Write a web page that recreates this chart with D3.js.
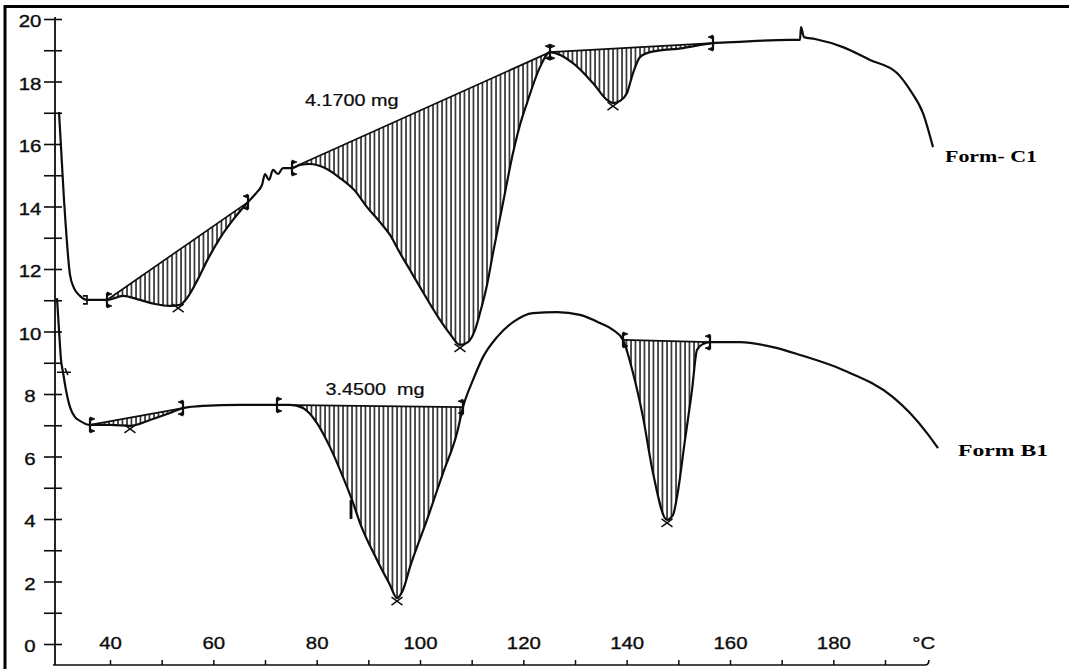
<!DOCTYPE html>
<html><head><meta charset="utf-8">
<script src="https://cdn.jsdelivr.net/npm/d3@7"></script>
<style>
html,body{margin:0;padding:0;background:#fff;}
svg{display:block;}
text{white-space:pre;}
</style></head>
<body>
<svg id="chart" width="1069" height="669"></svg>
<script>
// ---------------- DATA ----------------
// Form- C1 trace : temperature (°C) and signal value
const c1Temp = [30.13,31.10,32.26,33.03,34.19,35.55,39.42,42.52,45.81,48.71,51.61,53.55,54.90,56.84,58.77,61.29,63.81,66.71,68.45,69.42,70.00,70.77,71.55,72.52,73.48,75.23,76.77,78.71,81.61,84.52,87.42,89.74,92.26,94.19,96.13,98.06,100.0,101.94,103.87,105.81,107.74,109.29,110.65,111.61,112.97,114.13,116.06,118.0,119.35,120.71,123.23,125.16,129.61,133.48,136.19,137.35,138.71,140.06,141.23,142.58,144.52,150.9,156.71,160.58,171.61,173.55,173.74,174.32,176.45,181.87,187.1,192.32,194.84,197.35,199.29];
const c1Val  = [17.02,14.21,11.81,11.39,11.14,11.01,11.01,11.14,11.01,10.88,10.82,10.85,11.07,11.62,12.26,12.99,13.57,14.14,14.46,14.69,15.04,14.85,15.17,15.04,15.23,15.23,15.33,15.36,15.23,14.91,14.50,13.98,13.50,13.09,12.51,11.97,11.42,10.88,10.37,9.92,9.57,9.66,10.05,10.59,11.49,12.51,14.11,15.71,16.61,17.31,18.46,18.94,18.59,17.95,17.41,17.31,17.38,17.63,18.27,18.78,18.94,19.07,19.23,19.26,19.33,19.33,19.74,19.42,19.36,19.10,18.69,18.27,17.73,16.99,15.90];
// Form B1 trace
const b1Temp = [29.74,30.13,30.52,30.90,31.48,32.26,33.23,34.19,36.13,40.0,43.87,47.74,51.61,54.13,58.0,65.16,72.32,74.84,77.35,80.06,82.58,85.10,86.84,88.39,91.68,94.19,95.55,96.71,98.06,101.35,104.45,107.16,108.32,110.26,112.19,114.90,118.0,121.87,126.52,130.97,134.84,137.35,139.29,141.23,143.16,145.10,147.81,148.97,149.74,151.29,152.65,153.61,154.77,156.13,161.94,168.32,173.55,181.87,191.55,194.84,198.13,200.26];
const b1Val  = [11.07,10.05,9.09,8.70,8.13,7.58,7.26,7.14,7.01,7.01,6.98,7.17,7.39,7.55,7.62,7.65,7.65,7.65,7.55,7.07,6.30,5.34,4.61,3.87,2.69,1.89,1.47,1.73,2.46,3.97,5.47,6.75,7.58,8.45,9.18,9.82,10.30,10.59,10.62,10.53,10.27,10.05,9.73,8.67,7.26,5.47,3.97,4.13,4.70,6.53,8.13,9.41,9.60,9.66,9.66,9.50,9.25,8.77,7.90,7.39,6.75,6.27];

// integration limits and peak minima
const c1PeakStart = [39.42, 75.23, 125.16];
const c1PeakEnd   = [66.71, 125.16, 156.71];
const c1PeakMin   = [53.2, 107.74, 137.35];
const b1PeakStart = [36.13, 72.32, 139.29];
const b1PeakEnd   = [54.13, 108.32, 156.13];
const b1PeakMin   = [43.87, 95.55, 147.81];
const c1ExtraMark = [35.55];
const b1ExtraMark = [30.90];
const b1NotchMark = [86.84];

const peakLabels  = ["4.1700 mg", "3.4500  mg"];
const seriesNames = ["Form- C1", "Form B1"];
const yTicks      = d3.range(0, 21, 1);
const yTickLabels = [0, 2, 4, 6, 8, 10, 12, 14, 16, 18, 20];
const xTicks      = d3.range(40, 191, 10);
const xTickLabels = [40, 60, 80, 100, 120, 140, 160, 180];
const xUnit       = "°C";

// ---------------- DRAWING ----------------
const svg = d3.select("#chart");
const x = d3.scaleLinear().domain([40, 190]).range([110, 885]);
const y = d3.scaleLinear().domain([0, 20]).range([644, 19]);
const AX_Y = 665, AX_X = 55;
const FONT = "'Liberation Sans', Arial, sans-serif";
const STRETCH = 1.2;
const INK = "#0d0d0d";

function interp(T, V, t) {
  const i = d3.bisectLeft(T, t);
  if (i <= 0) return V[0];
  if (i >= T.length) return V[V.length - 1];
  if (T[i] === t) return V[i];
  return V[i-1] + (V[i] - V[i-1]) * (t - T[i-1]) / (T[i] - T[i-1]);
}

// hatch pattern
const defs = svg.append("defs");
defs.append("pattern").attr("id", "hatch").attr("patternUnits", "userSpaceOnUse")
  .attr("width", 4.5).attr("height", 10)
  .append("line").attr("x1", 1).attr("x2", 1).attr("y1", 0).attr("y2", 10)
  .attr("stroke", "#111").attr("stroke-width", 1.45);

// frame (left & top)
svg.append("line").attr("x1", 5).attr("x2", 5).attr("y1", 5).attr("y2", 669)
  .attr("stroke", "#000").attr("stroke-width", 3);
svg.append("line").attr("x1", 4).attr("x2", 1069).attr("y1", 6.5).attr("y2", 6.5)
  .attr("stroke", "#000").attr("stroke-width", 3);

// x axis (ticks pointing up, labels above)
const xAxisScale = x.copy().domain([29, 198.5]).range([x(29), x(198.5)]);
const gx = svg.append("g").attr("transform", `translate(0,${AX_Y})`)
  .call(d3.axisTop(xAxisScale).tickValues(xTicks)
    .tickFormat(d => xTickLabels.includes(d) ? d : "")
    .tickSize(5).tickSizeOuter(0).tickPadding(11));
gx.select(".domain").remove();
gx.selectAll(".tick line").attr("stroke", INK).attr("stroke-width", 1.5);
gx.selectAll(".tick text").attr("font-family", FONT).attr("font-size", 17)
  .attr("fill", INK).attr("stroke", INK).attr("stroke-width", 0.35)
  .attr("transform", `scale(${STRETCH},1)`);
svg.append("path")
  .attr("d", `M${AX_X - 2},${AX_Y} L${xAxisScale(198.5) - 4},${AX_Y} Q${xAxisScale(198.5)},${AX_Y} ${xAxisScale(198.5)},${AX_Y - 5}`)
  .attr("fill", "none").attr("stroke", INK).attr("stroke-width", 1.6);
svg.append("text").attr("x", 0).attr("y", 0)
  .attr("transform", `translate(${x(197.5)},${AX_Y - 16}) scale(${STRETCH},1)`)
  .attr("text-anchor", "middle").attr("font-family", FONT).attr("font-size", 17)
  .attr("fill", INK).attr("stroke", INK).attr("stroke-width", 0.35).text(xUnit);

// y axis (ticks crossing the line)
const gy = svg.append("g").attr("transform", `translate(${AX_X},0)`)
  .call(d3.axisLeft(y).tickValues(yTicks)
    .tickFormat(d => yTickLabels.includes(d) ? d : "").tickSizeOuter(0));
gy.select(".domain").remove();
gy.selectAll(".tick line").attr("x1", 7).attr("x2", -11).attr("stroke", INK).attr("stroke-width", 1.6);
gy.selectAll(".tick text").attr("x", -25 / STRETCH).attr("dy", "0.45em")
  .attr("text-anchor", "middle").attr("font-family", FONT).attr("font-size", 17)
  .attr("fill", INK).attr("stroke", INK).attr("stroke-width", 0.35)
  .attr("transform", `scale(${STRETCH},1)`);
svg.append("line").attr("x1", AX_X).attr("x2", AX_X).attr("y1", y(20) - 2).attr("y2", AX_Y)
  .attr("stroke", INK).attr("stroke-width", 1.8);

// peaks: hatched areas + baselines
function drawPeaks(T, V, starts, ends) {
  starts.forEach((s, i) => {
    const e = ends[i];
    const vs = interp(T, V, s), ve = interp(T, V, e);
    const base = t => vs + (ve - vs) * (t - s) / (e - s);
    const pts = [];
    T.forEach((t, k) => { if (t >= s - 1e-6 && t <= e + 1e-6) pts.push({ t, v: V[k], b: base(t) }); });
    const area = d3.area().x(d => x(d.t)).y0(d => y(d.b)).y1(d => y(d.v)).curve(d3.curveMonotoneX);
    svg.append("path").attr("d", area(pts)).attr("fill", "url(#hatch)").attr("stroke", "none");
    svg.append("line").attr("x1", x(s)).attr("y1", y(vs)).attr("x2", x(e)).attr("y2", y(ve))
      .attr("stroke", INK).attr("stroke-width", 1.7);
  });
}
drawPeaks(c1Temp, c1Val, c1PeakStart, c1PeakEnd);
drawPeaks(b1Temp, b1Val, b1PeakStart, b1PeakEnd);

// curves
const line = d3.line().x(d => x(d[0])).y(d => y(d[1])).curve(d3.curveMonotoneX);
svg.append("path").attr("d", line(d3.zip(c1Temp, c1Val)))
  .attr("fill", "none").attr("stroke", INK).attr("stroke-width", 2.2).attr("stroke-linejoin", "round");
svg.append("path").attr("d", line(d3.zip(b1Temp, b1Val)))
  .attr("fill", "none").attr("stroke", INK).attr("stroke-width", 2.2).attr("stroke-linejoin", "round");

// markers
const mk = svg.append("g").attr("stroke", INK).attr("fill", INK);
function limitMark(t, v, dir) {
  const px = x(t), py = y(v);
  mk.append("line").attr("x1", px).attr("x2", px).attr("y1", py - 7).attr("y2", py + 7).attr("stroke-width", 2.2);
  const dirs = dir === 0 ? [1, -1] : [dir];
  dirs.forEach(dd => {
    mk.append("path").attr("stroke-width", 0.8)
      .attr("d", `M${px},${py - 8} L${px + 5 * dd},${py - 6} L${px},${py - 4} Z M${px},${py + 8} L${px + 5 * dd},${py + 6} L${px},${py + 4} Z`);
  });
}
function crossMark(t, v) {
  const px = x(t), py = y(v) + 3;
  mk.append("path").attr("fill", "none").attr("stroke-width", 1.4)
    .attr("d", `M${px - 5.5},${py - 4} L${px + 5.5},${py + 4} M${px - 5.5},${py + 4} L${px + 5.5},${py - 4}`);
}
function peakMarks(T, V, starts, ends, mins) {
  starts.forEach((s, i) => {
    const both = i > 0 && Math.abs(ends[i - 1] - s) < 1e-6;
    limitMark(s, interp(T, V, s), both ? 0 : 1);
    if (!(i < starts.length - 1 && Math.abs(starts[i + 1] - ends[i]) < 1e-6))
      limitMark(ends[i], interp(T, V, ends[i]), -1);
    crossMark(mins[i], interp(T, V, mins[i]));
  });
}
peakMarks(c1Temp, c1Val, c1PeakStart, c1PeakEnd, c1PeakMin);
peakMarks(b1Temp, b1Val, b1PeakStart, b1PeakEnd, b1PeakMin);
c1ExtraMark.forEach(t => {
  const px = x(t), py = y(interp(c1Temp, c1Val, t));
  mk.append("path").attr("fill", "none").attr("stroke-width", 1.7)
    .attr("d", `M${px - 4},${py - 4} L${px},${py - 4} L${px},${py + 4} L${px - 4},${py + 4}`);
});
b1ExtraMark.forEach(t => {
  const px = x(t), py = y(interp(b1Temp, b1Val, t));
  mk.append("path").attr("fill", "none").attr("stroke-width", 1.5)
    .attr("d", `M${px - 6},${py} L${px + 8},${py} M${px + 2},${py - 4} L${px + 5},${py + 3}`);
});
b1NotchMark.forEach(t => {
  const px = x(t) - 1, py = y(interp(b1Temp, b1Val, t));
  mk.append("line").attr("x1", px).attr("x2", px).attr("y1", py).attr("y2", py + 19).attr("stroke-width", 2.8);
});

// peak labels
const labelPos = [[86.8, 17.22], [91.3, 7.97]];
peakLabels.forEach((txt, i) => {
  svg.append("text").attr("x", 0).attr("y", 0)
    .attr("transform", `translate(${x(labelPos[i][0])},${y(labelPos[i][1])}) scale(${STRETCH},1)`)
    .attr("text-anchor", "middle").attr("font-family", FONT).attr("font-size", 16.5)
    .attr("fill", INK).attr("stroke", INK).attr("stroke-width", 0.25).text(txt);
});

// series names
const namePos = [[945, 162, 92], [958, 456, 90]];
seriesNames.forEach((txt, i) => {
  svg.append("text").attr("x", namePos[i][0]).attr("y", namePos[i][1])
    .attr("textLength", namePos[i][2]).attr("lengthAdjust", "spacingAndGlyphs")
    .attr("font-family", "'Liberation Serif', 'Times New Roman', serif")
    .attr("font-weight", "bold").attr("font-size", 17).attr("fill", "#000").text(txt);
});
</script>
</body></html>
